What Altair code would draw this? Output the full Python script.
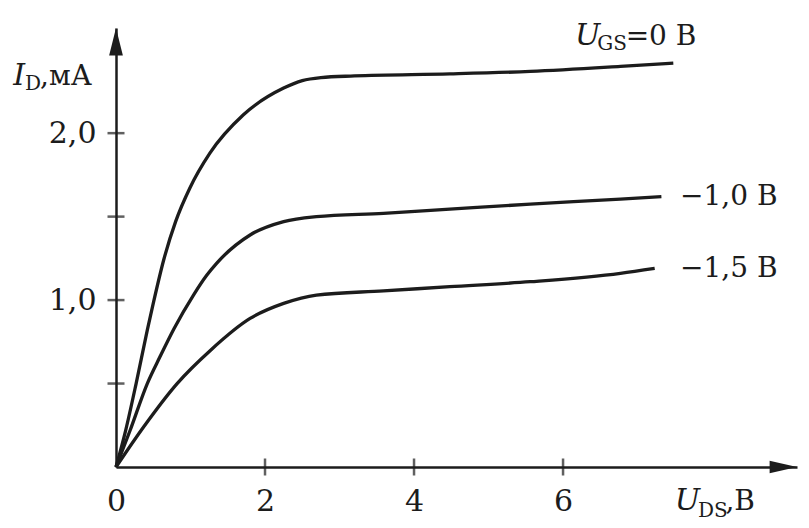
import altair as alt
import pandas as pd

# --- curve data (U_DS in V, I_D in mA) ---
ugs0_x = [0, 0.13, 0.27, 0.42, 0.50, 0.64, 0.80, 0.99, 1.26, 1.71, 2.25, 2.50, 2.75, 3.20, 4.48, 5.56, 6.77, 7.48]
ugs0_y = [0, 0.22, 0.50, 0.82, 0.98, 1.24, 1.47, 1.67, 1.88, 2.11, 2.27, 2.315, 2.333, 2.343, 2.355, 2.37, 2.40, 2.42]

ugs10_x = [0, 0.19, 0.42, 0.59, 0.78, 1.04, 1.22, 1.35, 1.80, 2.25, 2.69, 3.59, 4.48, 5.56, 6.77, 7.32]
ugs10_y = [0, 0.22, 0.50, 0.66, 0.83, 1.03, 1.15, 1.22, 1.39, 1.47, 1.50, 1.52, 1.545, 1.575, 1.605, 1.62]

ugs15_x = [0, 0.37, 0.82, 1.27, 1.80, 2.25, 2.69, 3.59, 4.48, 5.56, 6.77, 7.23]
ugs15_y = [0, 0.24, 0.50, 0.70, 0.89, 0.98, 1.03, 1.055, 1.08, 1.11, 1.16, 1.19]

x_ticks = [2, 4, 6]
x_tick_labels = [0, 2, 4, 6]
y_ticks = [0.5, 1.0, 1.5, 2.0]
y_tick_labels = [1.0, 2.0]

X_MAX = 9.14
Y_MAX = 2.63

# label texts and anchor positions (data units)
italic_texts = ["U", "I", "U"]
italic_x = [6.16, -1.38, 7.50]
italic_y = [2.527, 2.287, -0.257]

sub_texts = ["GS", "D", "DS"]
sub_x = [6.46, -1.22, 7.81]
sub_y = [2.497, 2.257, -0.299]

plain_texts = ["=0 В", ",мА", ",В"]
plain_x = [6.84, -1.02, 8.18]
plain_y = [2.527, 2.287, -0.257]

curve_texts = ["\u22121,0 В", "\u22121,5 В"]
curve_x = [7.57, 7.57]
curve_y = [1.569, 1.138]

INK = "#1c1c1c"
FONT = "DejaVu Serif"

curves = pd.concat([
    pd.DataFrame({"x": ugs0_x, "y": ugs0_y, "curve": "0"}),
    pd.DataFrame({"x": ugs10_x, "y": ugs10_y, "curve": "-1.0"}),
    pd.DataFrame({"x": ugs15_x, "y": ugs15_y, "curve": "-1.5"}),
])

xs = alt.Scale(domain=[0, X_MAX], nice=False, zero=False)
ys = alt.Scale(domain=[0, Y_MAX], nice=False, zero=False)

X = alt.X("x:Q", scale=xs, title=None,
          axis=alt.Axis(values=x_tick_labels, format="d", ticks=False, grid=False,
                        domainColor=INK, domainWidth=2.5, labelFont=FONT,
                        labelFontSize=30, labelColor=INK, labelPadding=19,
                        labelFlush=False, labelOverlap=False))
Y = alt.Y("y:Q", scale=ys, title=None,
          axis=alt.Axis(values=y_tick_labels, ticks=False, grid=False,
                        labelExpr="replace(format(datum.value, '.1f'), '.', ',')",
                        domainColor=INK, domainWidth=2.5, labelFont=FONT,
                        labelFontSize=30, labelColor=INK, labelPadding=20,
                        labelFlush=False, labelOverlap=False))

lines = alt.Chart(curves).mark_line(
    interpolate="monotone", strokeWidth=3.3, color=INK
).encode(x=X, y=Y, detail="curve:N")

xt = alt.Chart(pd.DataFrame({"x": x_ticks, "y": [0] * len(x_ticks)})).mark_tick(
    orient="vertical", size=17, thickness=2.5, color=INK
).encode(x=X, y=Y)

yt = alt.Chart(pd.DataFrame({"x": [0] * len(y_ticks), "y": y_ticks})).mark_tick(
    orient="horizontal", size=17, thickness=2.5, color=INK
).encode(x=X, y=Y)

arrow_x = alt.Chart(pd.DataFrame({"x": [X_MAX], "y": [0]})).mark_point(
    shape="M0,0L-1,-0.23L-1,0.23Z", size=3000, filled=True, opacity=1, color=INK
).encode(x=X, y=Y)

arrow_y = alt.Chart(pd.DataFrame({"x": [0], "y": [Y_MAX]})).mark_point(
    shape="M0,0L0.25,1L-0.25,1Z", size=3000, filled=True, opacity=1, color=INK
).encode(x=X, y=Y)

t_italic = alt.Chart(pd.DataFrame({"x": italic_x, "y": italic_y, "t": italic_texts})).mark_text(
    align="left", baseline="alphabetic", font=FONT, fontStyle="italic", fontSize=30, color=INK
).encode(x=X, y=Y, text="t:N")

t_sub = alt.Chart(pd.DataFrame({"x": sub_x, "y": sub_y, "t": sub_texts})).mark_text(
    align="left", baseline="alphabetic", font=FONT, fontSize=20, color=INK
).encode(x=X, y=Y, text="t:N")

t_plain = alt.Chart(pd.DataFrame({"x": plain_x, "y": plain_y, "t": plain_texts})).mark_text(
    align="left", baseline="alphabetic", font=FONT, fontSize=28, color=INK
).encode(x=X, y=Y, text="t:N")

t_curve = alt.Chart(pd.DataFrame({"x": curve_x, "y": curve_y, "t": curve_texts})).mark_text(
    align="left", baseline="alphabetic", font=FONT, fontSize=28, color=INK
).encode(x=X, y=Y, text="t:N")

chart = alt.layer(lines, xt, yt, arrow_x, arrow_y, t_italic, t_sub, t_plain, t_curve).properties(
    width=681, height=439,
    padding={"left": 108, "top": 20, "right": 4, "bottom": 60},
    autosize=alt.AutoSizeParams(type="none"),
    background="white",
).configure_view(stroke=None)

chart.save("out.html", embed_options={"renderer": "svg", "actions": False})
